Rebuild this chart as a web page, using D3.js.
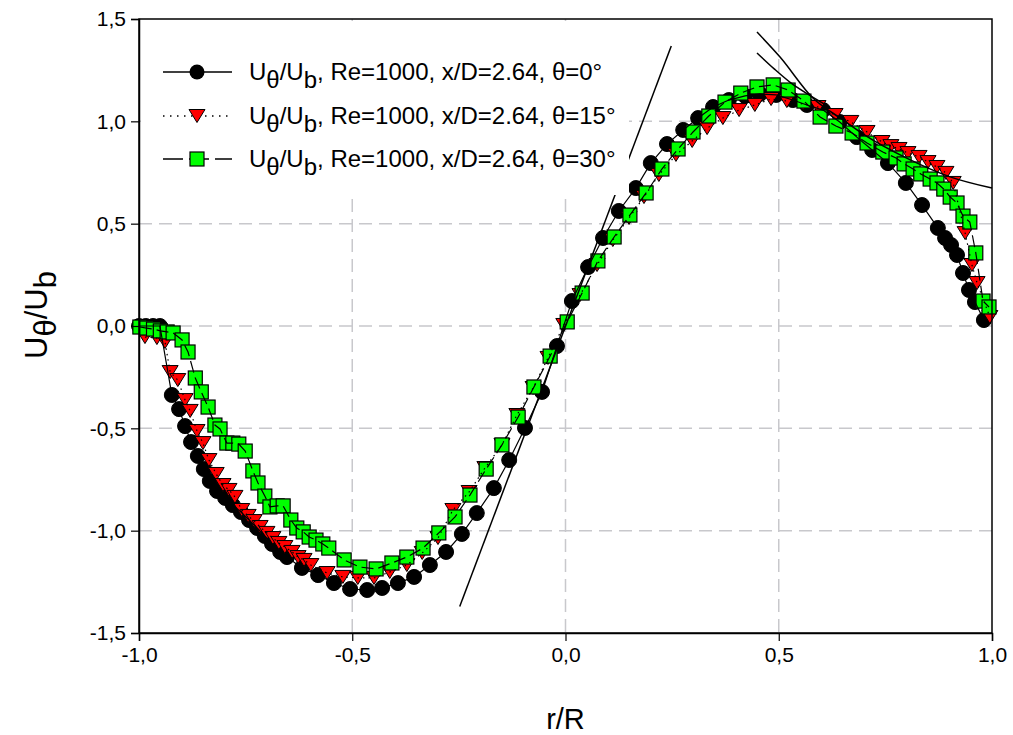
<!DOCTYPE html>
<html>
<head>
<meta charset="utf-8">
<script src="https://cdn.jsdelivr.net/npm/d3@7/dist/d3.min.js"></script>
<style>
  html, body { margin: 0; padding: 0; background: #fff; }
  svg { display: block; font-family: "Liberation Sans", Arial, sans-serif; }
</style>
</head>
<body>
<svg id="chart" width="1013" height="735"></svg>
<script>
// ---------------- data ----------------
const xTicks = [-1.0, -0.5, 0.0, 0.5, 1.0];
const yTicks = [-1.5, -1.0, -0.5, 0.0, 0.5, 1.0, 1.5];
const xGrid = [-0.5, 0.0, 0.5];
const yGrid = [-1.0, -0.5, 0.0, 0.5, 1.0];

const legendPrefix = ", Re=1000, x/D=2.64, ";
const legendAngles = ["θ=0°", "θ=15°", "θ=30°"];

// theta = 0 deg (black circles)
const theta0X = [-1.000,-0.984,-0.967,-0.951,-0.923,-0.906,-0.892,-0.878,-0.862,-0.848,-0.834,-0.817,-0.798,-0.780,-0.761,-0.742,-0.723,-0.705,-0.688,-0.669,-0.653,-0.618,-0.580,-0.543,-0.505,-0.465,-0.430,-0.393,-0.355,-0.318,-0.280,-0.243,-0.208,-0.168,-0.132,-0.095,-0.055,-0.020,0.015,0.053,0.088,0.125,0.165,0.200,0.238,0.276,0.311,0.346,0.383,0.421,0.456,0.494,0.533,0.566,0.604,0.643,0.683,0.719,0.756,0.798,0.836,0.873,0.890,0.904,0.918,0.932,0.946,0.960,0.981];
const theta0Y = [0.000,0.000,0.000,0.000,-0.337,-0.406,-0.489,-0.567,-0.635,-0.699,-0.757,-0.806,-0.840,-0.875,-0.909,-0.948,-0.987,-1.026,-1.065,-1.104,-1.129,-1.182,-1.217,-1.256,-1.285,-1.290,-1.280,-1.256,-1.226,-1.168,-1.104,-1.016,-0.914,-0.792,-0.655,-0.498,-0.322,-0.098,0.122,0.288,0.430,0.562,0.674,0.796,0.889,0.958,1.016,1.070,1.104,1.124,1.134,1.129,1.104,1.080,1.055,0.997,0.923,0.860,0.796,0.699,0.591,0.479,0.430,0.396,0.347,0.259,0.176,0.117,0.029];

// theta = 15 deg (red triangles)
const theta15X = [-0.986,-0.958,-0.939,-0.927,-0.909,-0.892,-0.880,-0.864,-0.850,-0.836,-0.819,-0.803,-0.789,-0.775,-0.759,-0.744,-0.730,-0.716,-0.700,-0.686,-0.672,-0.658,-0.641,-0.627,-0.613,-0.597,-0.559,-0.522,-0.487,-0.449,-0.412,-0.372,-0.336,-0.299,-0.264,-0.226,-0.189,-0.149,-0.114,-0.076,-0.041,-0.004,0.034,0.074,0.111,0.149,0.184,0.219,0.259,0.297,0.332,0.369,0.407,0.444,0.482,0.519,0.557,0.592,0.632,0.669,0.707,0.742,0.763,0.782,0.803,0.829,0.850,0.871,0.892,0.909,0.937,0.953,0.965,0.995];
const theta15Y = [-0.054,-0.059,-0.078,-0.225,-0.264,-0.362,-0.415,-0.513,-0.572,-0.655,-0.723,-0.777,-0.801,-0.835,-0.899,-0.928,-0.953,-0.982,-1.011,-1.036,-1.060,-1.080,-1.104,-1.129,-1.143,-1.168,-1.207,-1.226,-1.231,-1.231,-1.202,-1.168,-1.109,-1.036,-0.899,-0.811,-0.694,-0.581,-0.435,-0.303,-0.156,0.005,0.151,0.298,0.420,0.528,0.630,0.738,0.836,0.904,0.967,1.016,1.055,1.080,1.109,1.099,1.085,1.070,1.031,0.997,0.948,0.899,0.879,0.865,0.845,0.826,0.801,0.777,0.748,0.699,0.454,0.298,0.210,0.044];

// theta = 30 deg (green squares)
const theta30X = [-0.998,-0.982,-0.966,-0.950,-0.934,-0.920,-0.899,-0.885,-0.868,-0.854,-0.838,-0.822,-0.810,-0.794,-0.780,-0.766,-0.751,-0.733,-0.721,-0.705,-0.693,-0.676,-0.662,-0.644,-0.630,-0.615,-0.601,-0.585,-0.569,-0.555,-0.519,-0.482,-0.444,-0.407,-0.372,-0.334,-0.297,-0.259,-0.224,-0.186,-0.149,-0.111,-0.074,-0.036,0.004,0.039,0.076,0.114,0.151,0.189,0.226,0.264,0.299,0.336,0.374,0.411,0.449,0.487,0.522,0.559,0.597,0.634,0.672,0.707,0.744,0.775,0.794,0.815,0.833,0.855,0.871,0.887,0.902,0.918,0.932,0.948,0.962,0.979,0.993];
const theta30Y = [-0.005,-0.010,-0.015,-0.024,-0.029,-0.034,-0.068,-0.127,-0.254,-0.322,-0.396,-0.484,-0.503,-0.572,-0.572,-0.577,-0.611,-0.708,-0.767,-0.831,-0.884,-0.879,-0.879,-0.948,-0.987,-1.006,-1.031,-1.046,-1.065,-1.085,-1.143,-1.178,-1.187,-1.158,-1.129,-1.085,-1.011,-0.933,-0.826,-0.699,-0.581,-0.445,-0.298,-0.147,0.020,0.161,0.318,0.435,0.542,0.650,0.767,0.865,0.948,1.026,1.094,1.138,1.168,1.178,1.153,1.099,1.021,0.977,0.943,0.894,0.850,0.821,0.792,0.767,0.743,0.718,0.699,0.669,0.630,0.601,0.537,0.508,0.357,0.122,0.093];

// reference lines
const tangentX = [-0.248, 0.248];
const tangentY = [-1.370, 1.368];
const outerCurveX = [0.449, 0.503, 0.580, 0.650, 0.700, 0.800, 0.900, 1.000];
const outerCurveY = [1.436, 1.314, 1.114, 1.008, 0.935, 0.820, 0.730, 0.674];
const innerCurveX = [0.449, 0.490, 0.530, 0.570, 0.610];
const innerCurveY = [1.334, 1.255, 1.185, 1.130, 1.080];

// ---------------- layout ----------------
const svg = d3.select("#chart");
const L = 139, R = 992, T = 19, B = 633;
const x = d3.scaleLinear().domain([-1, 1]).range([L, R]);
const y = d3.scaleLinear().domain([-1.5, 1.5]).range([B, T]);
const fmt = v => d3.format(".1f")(v).replace(".", ",").replace("−", "-");

// grid
const grid = svg.append("g").attr("stroke", "#c8c8cc").attr("stroke-width", 1.5).attr("stroke-dasharray", "13,7");
grid.selectAll("line.v").data(xGrid).join("line")
  .attr("x1", d => x(d)).attr("x2", d => x(d)).attr("y1", T).attr("y2", B);
grid.selectAll("line.h").data(yGrid).join("line")
  .attr("x1", L).attr("x2", R).attr("y1", d => y(d)).attr("y2", d => y(d));

// series
const zip = (xs, ys) => xs.map((v, i) => [v, ys[i]]);
const s0 = zip(theta0X, theta0Y), s15 = zip(theta15X, theta15Y), s30 = zip(theta30X, theta30Y);
const lineGen = d3.line().x(d => x(d[0])).y(d => y(d[1]));
const curveGen = d3.line().x(d => x(d[0])).y(d => y(d[1])).curve(d3.curveMonotoneX);

const triPath = (w, h) => `M${-w/2},${-h/2}L${w/2},${-h/2}L0,${h/2}Z`;

// markers
svg.append("g").selectAll("circle").data(s0).join("circle")
  .attr("cx", d => x(d[0])).attr("cy", d => y(d[1])).attr("r", 7.5)
  .attr("fill", "#000").attr("stroke", "#000").attr("stroke-width", 1);
svg.append("g").selectAll("path").data(s15).join("path")
  .attr("d", triPath(16, 13))
  .attr("transform", d => `translate(${x(d[0])},${y(d[1])})`)
  .attr("fill", "#ff0000").attr("stroke", "#000").attr("stroke-width", 1);
svg.append("g").selectAll("rect").data(s30).join("rect")
  .attr("x", d => x(d[0]) - 7).attr("y", d => y(d[1]) - 7).attr("width", 14).attr("height", 14)
  .attr("fill", "#00ff00").attr("stroke", "#000").attr("stroke-width", 1.2);

// series lines
svg.append("path").datum(s0).attr("d", lineGen).attr("fill", "none").attr("stroke", "#000").attr("stroke-width", 1.2);
svg.append("path").datum(s15).attr("d", lineGen).attr("fill", "none").attr("stroke", "#000").attr("stroke-width", 1.2).attr("stroke-dasharray", "1.5,4");
svg.append("path").datum(s30).attr("d", lineGen).attr("fill", "none").attr("stroke", "#000").attr("stroke-width", 1.2).attr("stroke-dasharray", "12,5");

// reference lines
svg.append("path").datum(zip(tangentX, tangentY)).attr("d", lineGen).attr("fill", "none").attr("stroke", "#000").attr("stroke-width", 1.5);
svg.append("path").datum(zip(outerCurveX, outerCurveY)).attr("d", curveGen).attr("fill", "none").attr("stroke", "#000").attr("stroke-width", 1.5);
svg.append("path").datum(zip(innerCurveX, innerCurveY)).attr("d", curveGen).attr("fill", "none").attr("stroke", "#000").attr("stroke-width", 1.5);

// legend (white background)
const leg = svg.append("g");
leg.append("rect").attr("x", L + 2).attr("y", T + 2).attr("width", 629 - L - 2).attr("height", 195 - T - 2).attr("fill", "#fff");
const rowsY = [72, 116, 159];
const lx1 = 163, lx2 = 232, lxm = 197, tx = 249;
const styles = [null, "1.5,5.5", "20,6"];
rowsY.forEach((ry, i) => {
  leg.append("line").attr("x1", lx1).attr("x2", lx2).attr("y1", ry).attr("y2", ry)
    .attr("stroke", "#000").attr("stroke-width", 1.3).attr("stroke-dasharray", styles[i]);
  if (i === 0) leg.append("circle").attr("cx", lxm).attr("cy", ry).attr("r", 7.5).attr("fill", "#000");
  if (i === 1) leg.append("path").attr("d", triPath(16, 13)).attr("transform", `translate(${lxm},${ry})`).attr("fill", "#ff0000").attr("stroke", "#000");
  if (i === 2) leg.append("rect").attr("x", lxm - 7).attr("y", ry - 7).attr("width", 14).attr("height", 14).attr("fill", "#00ff00").attr("stroke", "#000").attr("stroke-width", 1.2);
  const t = leg.append("text").attr("x", tx).attr("y", ry + 8).attr("font-size", 24).attr("fill", "#000");
  t.append("tspan").text("U");
  t.append("tspan").attr("dy", 8).text("θ");
  t.append("tspan").attr("dy", -8).text("/U");
  t.append("tspan").attr("dy", 8).text("b");
  t.append("tspan").attr("dy", -8).text(legendPrefix + legendAngles[i]);
});

// frame & axes
svg.append("rect").attr("x", L).attr("y", T).attr("width", R - L).attr("height", B - T)
  .attr("fill", "none").attr("stroke", "#000").attr("stroke-width", 1.5);

const xAxis = d3.axisBottom(x).tickValues(xTicks).tickSize(8).tickPadding(6).tickFormat(fmt);
const yAxis = d3.axisLeft(y).tickValues(yTicks).tickSize(8).tickPadding(5).tickFormat(fmt);
const gx = svg.append("g").attr("transform", `translate(0,${B})`).call(xAxis);
const gy = svg.append("g").attr("transform", `translate(${L},0)`).call(yAxis);
[gx, gy].forEach(g => {
  g.select(".domain").attr("stroke", "#000").attr("stroke-width", 1.5);
  g.selectAll(".tick line").attr("stroke", "#000").attr("stroke-width", 1.2);
  g.selectAll(".tick text").attr("font-size", 21).attr("fill", "#000")
    .attr("font-family", "'Liberation Sans', Arial, sans-serif");
});

// axis titles
svg.append("text").attr("x", (L + R) / 2).attr("y", 729).attr("text-anchor", "middle")
  .attr("font-size", 29).text("r/R");
const yt = svg.append("text").attr("transform", `translate(47,315) rotate(-90)`)
  .attr("text-anchor", "middle").attr("font-size", 31);
yt.append("tspan").text("U");
yt.append("tspan").attr("dy", 9).text("θ");
yt.append("tspan").attr("dy", -9).text("/U");
yt.append("tspan").attr("dy", 9).text("b");
</script>
</body>
</html>
